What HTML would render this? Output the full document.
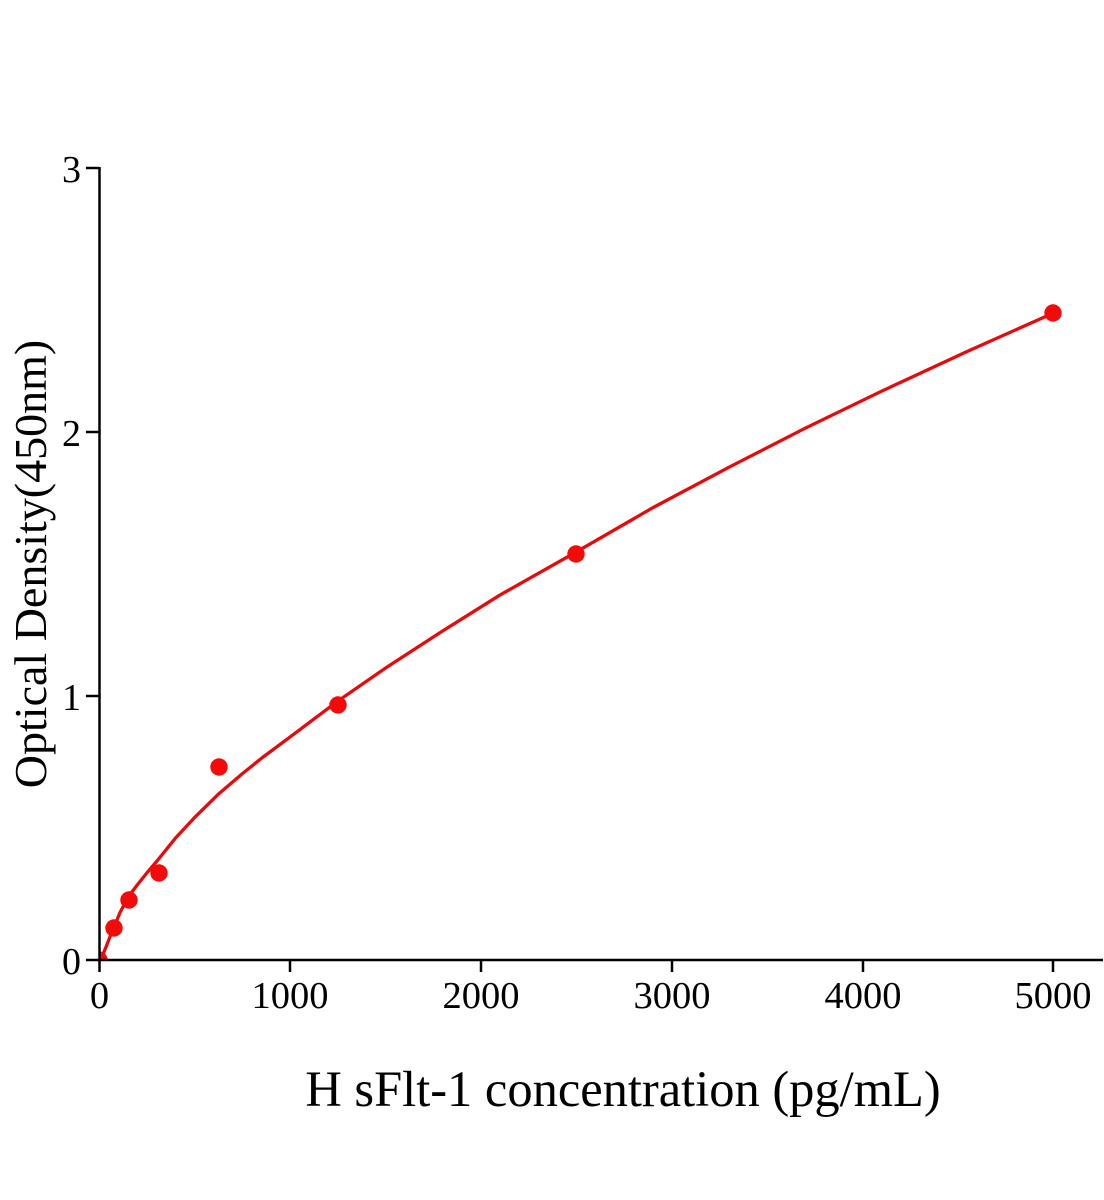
<!DOCTYPE html>
<html>
<head>
<meta charset="utf-8">
<style>
html,body{margin:0;padding:0;background:#fff;}
svg{display:block;}
text{font-family:"Liberation Serif",serif;fill:#000;}
</style>
</head>
<body>
<svg width="1104" height="1200" viewBox="0 0 1104 1200" xmlns="http://www.w3.org/2000/svg">
<defs>
<clipPath id="pa"><rect x="99" y="100" width="1005" height="860"/></clipPath>
</defs>
<!-- curve -->
<polyline clip-path="url(#pa)" fill="none" stroke="#e8090b" stroke-width="3.3" stroke-linejoin="round" stroke-linecap="round"
points="99,960 102.8,954.7 106.6,945.5 110.4,935.7 114.3,926.5 120,912.5 128.4,896.6 137.2,885 146.7,873.1 158.3,859.4 175.3,838.3 194.4,817.7 219,793.6 242.1,773.9 261.8,758 289.8,737.2 337.5,701.3 385.2,668.3 442.4,631.1 499.7,595.2 576,552.1 652.3,508 728.6,467.4 805,428.3 881.3,391.3 967.1,351.5 1053,313.2"/>
<!-- points -->
<g fill="#f50a0a" clip-path="url(#pa)">
<circle cx="99" cy="960" r="8.7"/>
<circle cx="114" cy="928" r="8.7"/>
<circle cx="129" cy="900" r="8.7"/>
<circle cx="159" cy="873" r="8.7"/>
<circle cx="219" cy="767" r="8.7"/>
<circle cx="338" cy="705" r="8.7"/>
<circle cx="576" cy="554" r="8.7"/>
<circle cx="1053" cy="313" r="8.7"/>
</g>
<!-- axes -->
<g stroke="#000" stroke-width="2.5" fill="none">
<line x1="99.5" y1="167" x2="99.5" y2="961"/>
<line x1="98" y1="960" x2="1103" y2="960"/>
<line x1="86" y1="168" x2="99" y2="168"/>
<line x1="86" y1="432" x2="99" y2="432"/>
<line x1="86" y1="696" x2="99" y2="696"/>
<line x1="86" y1="960" x2="99" y2="960"/>
<line x1="99.5" y1="960" x2="99.5" y2="972"/>
<line x1="290" y1="960" x2="290" y2="972"/>
<line x1="481" y1="960" x2="481" y2="972"/>
<line x1="672" y1="960" x2="672" y2="972"/>
<line x1="863" y1="960" x2="863" y2="972"/>
<line x1="1053" y1="960" x2="1053" y2="972"/>
</g>
<!-- y tick labels -->
<g font-size="38" text-anchor="end">
<text x="81" y="182">3</text>
<text x="81" y="446">2</text>
<text x="81" y="710">1</text>
<text x="81" y="974">0</text>
</g>
<!-- x tick labels -->
<g font-size="38.5" text-anchor="middle">
<text x="99.5" y="1008">0</text>
<text x="290" y="1008">1000</text>
<text x="481" y="1008">2000</text>
<text x="672" y="1008">3000</text>
<text x="863" y="1008">4000</text>
<text x="1053" y="1008">5000</text>
</g>
<!-- axis titles -->
<text x="623" y="1106" font-size="50.5" text-anchor="middle">H sFlt-1 concentration (pg/mL)</text>
<text transform="translate(46,564) rotate(-90)" font-size="46" text-anchor="middle">Optical Density(450nm)</text>
</svg>
</body>
</html>
